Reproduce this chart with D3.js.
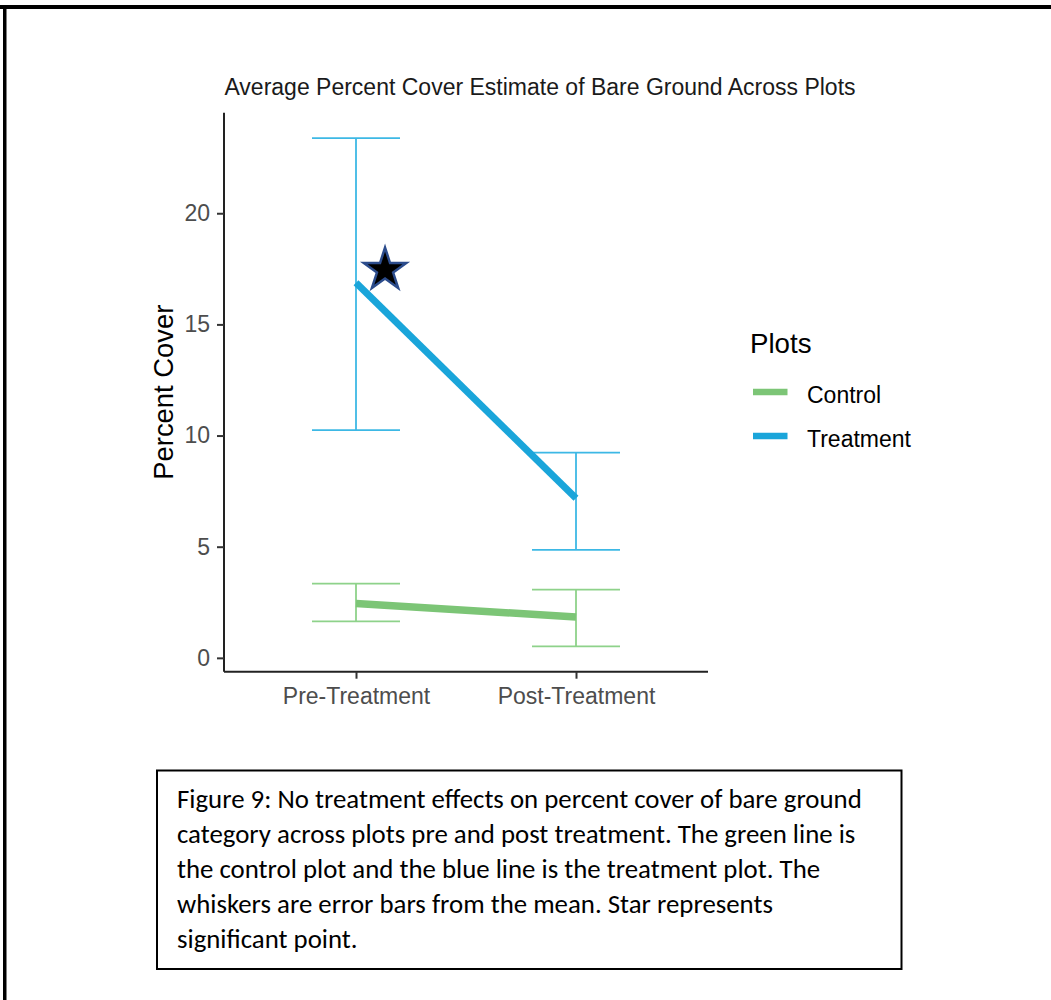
<!DOCTYPE html>
<html>
<head>
<meta charset="utf-8">
<script src="https://cdn.jsdelivr.net/npm/d3@7"></script>
<style>
  html, body { margin: 0; padding: 0; background: #fff; }
  svg { display: block; }
</style>
</head>
<body>
<svg id="chart" width="1051" height="1000"></svg>
<script>
// ---------------- data ----------------
const categories = ["Pre-Treatment", "Post-Treatment"];
const seriesNames = ["Control", "Treatment"];
const controlMean = [2.44, 1.84];
const controlLow  = [1.64, 0.52];
const controlHigh = [3.34, 3.07];
const treatMean   = [16.87, 7.18];
const treatLow    = [10.24, 4.86];
const treatHigh   = [23.38, 9.23];
const yTicks = [0, 5, 10, 15, 20];
const starCategory = "Pre-Treatment";
const starValue = 17.45;
const titleText = "Average Percent Cover Estimate of Bare Ground Across Plots";
const yLabel = "Percent Cover";
const legendTitle = "Plots";
const captionLines = [
  "Figure 9: No treatment effects on percent cover of bare ground",
  "category across plots pre and post treatment. The green line is",
  "the control plot and the blue line is the treatment plot. The",
  "whiskers are error bars from the mean. Star represents",
  "significant point."
];

// ---------------- layout ----------------
const svg = d3.select("#chart");
const font = "'Liberation Sans', Arial, sans-serif";
const plot = { left: 224, right: 708, top: 112.7, bottom: 671.7 };
const colors = {
  Control:   { line: "#7CC576", bar: "#8ED28A" },
  Treatment: { line: "#1AA5DA", bar: "#3DB8E5" }
};

// outer frame (top and left edges only)
svg.append("rect").attr("x", 0).attr("y", 5).attr("width", 1051).attr("height", 4).attr("fill", "#000");
svg.append("rect").attr("x", 3).attr("y", 5).attr("width", 3.5).attr("height", 995).attr("fill", "#000");

// scales
const x = d3.scalePoint().domain(categories).range([plot.left, plot.right]).padding(0.6);
const lo = d3.min([...controlLow, ...treatLow]);
const hi = d3.max([...controlHigh, ...treatHigh]);
const ex = (hi - lo) * 0.05;
const y = d3.scaleLinear().domain([lo - ex, hi + ex]).range([plot.bottom, plot.top]);

const series = [
  { name: "Control",   mean: controlMean, low: controlLow, high: controlHigh, lw: 7.5 },
  { name: "Treatment", mean: treatMean,   low: treatLow,   high: treatHigh,   lw: 7 }
];

const whiskerHalf = x.step() * 0.2;

// error bars
series.forEach(s => {
  const g = svg.append("g").attr("stroke", colors[s.name].bar).attr("stroke-width", 1.8).attr("fill", "none");
  categories.forEach((c, i) => {
    g.append("line").attr("x1", x(c)).attr("x2", x(c)).attr("y1", y(s.low[i])).attr("y2", y(s.high[i]));
    g.append("line").attr("x1", x(c) - whiskerHalf).attr("x2", x(c) + whiskerHalf).attr("y1", y(s.low[i])).attr("y2", y(s.low[i]));
    g.append("line").attr("x1", x(c) - whiskerHalf).attr("x2", x(c) + whiskerHalf).attr("y1", y(s.high[i])).attr("y2", y(s.high[i]));
  });
});

// mean lines
series.forEach(s => {
  const line = d3.line().x((d, i) => x(categories[i])).y(d => y(d));
  svg.append("path").datum(s.mean).attr("d", line)
    .attr("fill", "none").attr("stroke", colors[s.name].line)
    .attr("stroke-width", s.lw).attr("stroke-linecap", "butt");
});

// star
const star = d3.symbol().type(d3.symbolStar).size(560);
svg.append("path").attr("d", star())
  .attr("transform", `translate(${x(starCategory) + x.step() * 0.132},${y(starValue)})`)
  .attr("fill", "#000").attr("stroke", "#2C4C8C").attr("stroke-width", 2.5).attr("stroke-linejoin", "miter");

// axes
const yAxis = d3.axisLeft(y).tickValues(yTicks).tickSize(7).tickPadding(7);
const gy = svg.append("g").attr("transform", `translate(${plot.left},0)`).call(yAxis);
gy.select(".domain").attr("d", `M0,${plot.top}V${plot.bottom}`).attr("stroke", "#222").attr("stroke-width", 2);
gy.selectAll(".tick line").attr("stroke", "#333").attr("stroke-width", 2);
gy.selectAll(".tick text").attr("font-family", font).attr("font-size", 23).attr("fill", "#4D4D4D");

const xAxis = d3.axisBottom(x).tickSize(7).tickPadding(9);
const gx = svg.append("g").attr("transform", `translate(0,${plot.bottom})`).call(xAxis);
gx.select(".domain").attr("d", `M${plot.left},0H${plot.right}`).attr("stroke", "#222").attr("stroke-width", 2);
gx.selectAll(".tick line").attr("stroke", "#333").attr("stroke-width", 2);
gx.selectAll(".tick text").attr("font-family", font).attr("font-size", 23).attr("fill", "#4D4D4D");

// title
svg.append("text").attr("x", 540).attr("y", 95).attr("text-anchor", "middle")
  .attr("font-family", font).attr("font-size", 23).attr("fill", "#1a1a1a").text(titleText);

// y label
svg.append("text").attr("transform", `translate(173,${(plot.top + plot.bottom) / 2}) rotate(-90)`)
  .attr("text-anchor", "middle").attr("font-family", font).attr("font-size", 27.4).attr("fill", "#000").text(yLabel);

// legend
const lg = svg.append("g");
lg.append("text").attr("x", 750).attr("y", 353).attr("font-family", font).attr("font-size", 27.7).attr("fill", "#000").text(legendTitle);
seriesNames.forEach((n, i) => {
  const cy = 392 + i * 44;
  lg.append("line").attr("x1", 753).attr("x2", 787.5).attr("y1", cy).attr("y2", cy)
    .attr("stroke", colors[n].line).attr("stroke-width", 6.5);
  lg.append("text").attr("x", 807).attr("y", cy + 11).attr("font-family", font).attr("font-size", 23).attr("fill", "#000").text(n);
});

// caption box
svg.append("rect").attr("x", 157).attr("y", 770.5).attr("width", 744.5).attr("height", 198.5)
  .attr("fill", "none").attr("stroke", "#000").attr("stroke-width", 2);
const capFont = "Carlito, Calibri, Lato, 'Noto Sans', sans-serif";
const probe = svg.append("text").attr("font-family", capFont).attr("font-size", 20).text(captionLines[0]);
const w20 = probe.node().getComputedTextLength();
probe.remove();
const capSize = 20 * 685 / w20;
const cap = svg.append("text").attr("font-family", capFont).attr("font-size", capSize).attr("fill", "#000");
captionLines.forEach((t, i) => {
  cap.append("tspan").attr("x", 177).attr("y", 808 + i * 35).text(t);
});
</script>
</body>
</html>
